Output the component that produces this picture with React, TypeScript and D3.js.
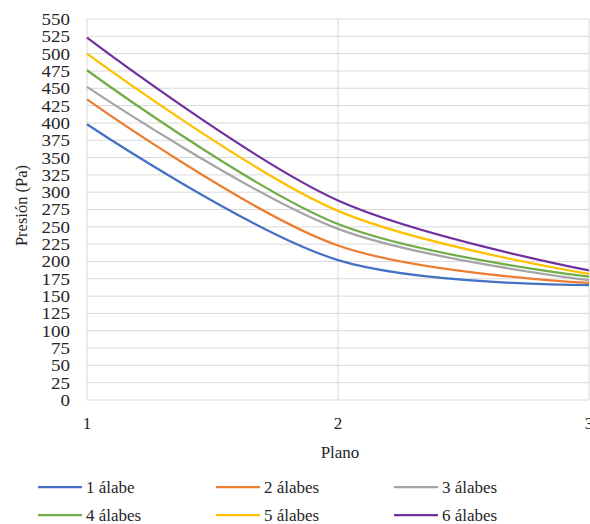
import React from "react";
import * as d3 from "d3";

const planes = [1, 2, 3];
const seriesNames = ["1 álabe", "2 álabes", "3 álabes", "4 álabes", "5 álabes", "6 álabes"];
const s1 = [398, 202, 166];
const s2 = [434, 223, 169];
const s3 = [452, 247, 173];
const s4 = [476, 254, 178];
const s5 = [500, 273, 182];
const s6 = [523, 288, 187];
const seriesValues = [s1, s2, s3, s4, s5, s6];
const colors = ["#4472C4", "#ED7D31", "#A5A5A5", "#70AD47", "#FFC000", "#7030A0"];
const yTicks = d3.range(0, 551, 25);

export default function App() {
  const W = 590, H = 524;
  const left = 87, right = 589, top = 19, bottom = 400;
  const x = d3.scaleLinear().domain([1, 3]).range([left, right]);
  const y = d3.scaleLinear().domain([0, 550]).range([bottom, top]);
  const line = d3
    .line<number>()
    .x((_, i) => x(planes[i]))
    .y((d) => y(d))
    .curve(d3.curveCatmullRom.alpha(0.5));
  const font = "'Liberation Serif', 'Times New Roman', serif";
  const txt = "#262626";
  const legendCols = [38, 216, 394];
  const legendRows = [487, 515];
  return (
    <svg
      width={W}
      height={H}
      style={{ position: "absolute", left: 0, top: 0 }}
      fontFamily={font}
    >
      <rect width={W} height={H} fill="#fff" />
      {yTicks.map((t) => (
        <line key={t} x1={left} x2={right} y1={y(t)} y2={y(t)} stroke="#d9d9d9" strokeWidth={1} />
      ))}
      {planes.map((p) => (
        <line key={p} x1={x(p)} x2={x(p)} y1={top} y2={bottom} stroke="#d9d9d9" strokeWidth={1} />
      ))}
      {yTicks.map((t) => (
        <text
          key={t}
          transform={`translate(70, ${y(t)}) scale(1.12, 1)`}
          dy="0.35em"
          textAnchor="end"
          fontSize={17}
          fill={txt}
        >
          {t}
        </text>
      ))}
      {planes.map((p) => (
        <text key={p} x={x(p)} y={429} textAnchor="middle" fontSize={17} fill={txt}>
          {p}
        </text>
      ))}
      <text x={340} y={458} textAnchor="middle" fontSize={17} fill={txt}>
        Plano
      </text>
      <text
        transform={`translate(27, ${(top + bottom) / 2 - 4}) rotate(-90)`}
        textAnchor="middle"
        fontSize={16.5}
        fill={txt}
      >
        Presión (Pa)
      </text>
      {seriesValues.map((vals, i) => (
        <path key={i} d={line(vals) || ""} fill="none" stroke={colors[i]} strokeWidth={2.25} />
      ))}
      {seriesNames.map((name, i) => {
        const cx = legendCols[i % 3];
        const cy = legendRows[Math.floor(i / 3)];
        return (
          <g key={name}>
            <line x1={cx} x2={cx + 44} y1={cy} y2={cy} stroke={colors[i]} strokeWidth={2.25} />
            <text x={cx + 48} y={cy} dy="0.35em" fontSize={17} fill={txt}>
              {name}
            </text>
          </g>
        );
      })}
    </svg>
  );
}
